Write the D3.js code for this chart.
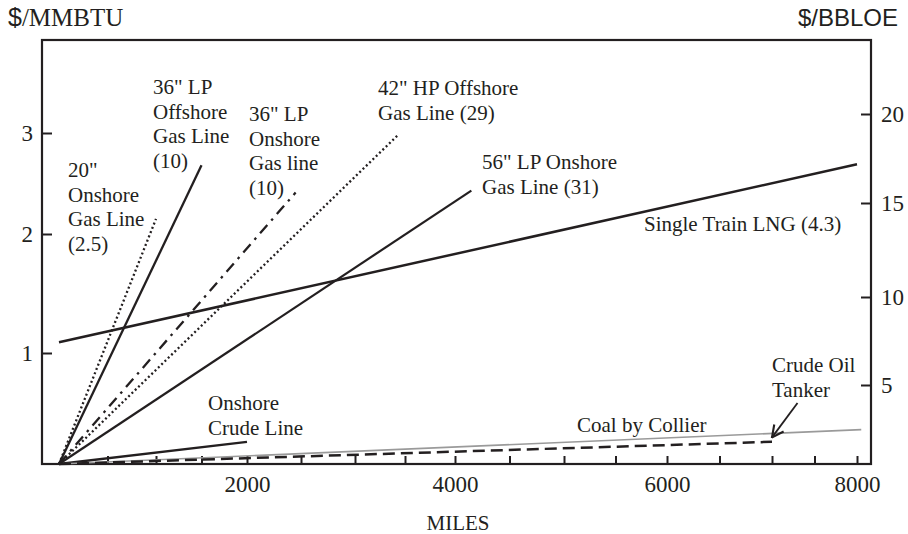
<!DOCTYPE html>
<html lang="en">
<head>
<meta charset="UTF-8">
<title>Transport cost by distance</title>
<script src="https://d3js.org/d3.v7.min.js"></script>
<style>
  body { margin: 0; background: #fff; }
  .frame { fill: none; stroke: #231f20; stroke-width: 2.2; }
  .ticks line { stroke: #231f20; stroke-width: 2; }
  .ticks path, .labels path, .labels line { display: none; }
</style>
</head>
<body>
<script>
// series: cost ($/MMBTU) against distance (miles), each a straight line
const series = [
  "20\" Onshore Gas Line", "36\" LP Offshore Gas Line", "36\" LP Onshore Gas line",
  "42\" HP Offshore Gas Line", "56\" LP Onshore Gas Line", "Single Train LNG",
  "Onshore Crude Line", "Coal by Collier", "Crude Oil Tanker"
];
const startMiles = [0, 0, 0, 0, 0, 0, 0, 0, 0];
const startCost  = [0, 0, 0, 0, 0, 1.09, 0, 0, 0];
const endMiles   = [1000, 1500, 2450, 3430, 4150, 8000, 2000, 8050, 7000];
const endCost    = [2.15, 2.68, 2.41, 2.98, 2.43, 2.69, 0.2, 0.31, 0.2];

const labelLines = [
  ["20\"", "Onshore", "Gas Line", "(2.5)"],
  ["36\" LP", "Offshore", "Gas Line", "(10)"],
  ["36\" LP", "Onshore", "Gas line", "(10)"],
  ["42\" HP Offshore", "Gas Line (29)"],
  ["56\" LP Onshore", "Gas Line (31)"],
  ["Single Train LNG (4.3)"],
  ["Onshore", "Crude Line"],
  ["Coal by Collier"],
  ["Crude Oil", "Tanker"]
];

const xTickLabels = [2000, 4000, 6000, 8000];
const xTickMarks = [500, 1000, 1500, 2000, 2500, 3000, 3500, 4000,
                    4500, 5000, 5500, 6000, 6500, 7000, 7500, 8000];
const yTicksLeft = [1, 2, 3];
const yTicksRight = [5, 10, 15, 20];

// arrow pointing at the tanker line end (miles, $/MMBTU)
const arrowFrom = [7300, 0.55];
const arrowTo = [7000, 0.24];

// ---- layout / style ----
const W = 908, H = 534;
const frame = {left: 42, right: 871, top: 40, bottom: 464};
const SERIF = "'Liberation Serif', 'Times New Roman', serif";
const SANS = "'Liberation Sans', Arial, sans-serif";
const INK = "#231f20";

// the printed axes are not evenly spaced, so use piecewise scales
const x = d3.scaleLinear()
  .domain([0, 1000, 2000, 3000, 4000, 5000, 6000, 7000, 8000])
  .range([59, 156, 247, 355, 455, 564, 667, 772, 857]);
const y = d3.scaleLinear().domain([0, 1, 2, 3]).range([464, 353, 234, 133]);
const yR = d3.scaleLinear().domain([5, 10, 15, 20]).range([385, 297, 203, 114]);

const lineStyle = [
  {dash: "2,2.6", color: INK, w: 2.3},
  {dash: null, color: INK, w: 2.3},
  {dash: "11,6,2.5,6", color: INK, w: 2.3},
  {dash: "2,2.6", color: INK, w: 2.3},
  {dash: null, color: INK, w: 2.2},
  {dash: null, color: INK, w: 2.5},
  {dash: null, color: INK, w: 2.3},
  {dash: null, color: "#9a9a9a", w: 1.6},
  {dash: "12,6", color: INK, w: 2.5}
];
// label anchors: left x, first baseline (px)
const labelPos = [
  [68, 177], [153, 94], [249, 121], [378, 95], [482, 169],
  [644, 231], [208, 410], [577, 432], [772, 372]
];
const lineGap = 24.5;

const svg = d3.select("body").append("svg")
  .attr("width", W)
  .attr("height", H);

svg.append("defs").append("marker")
  .attr("id", "head")
  .attr("viewBox", "0 0 12 12")
  .attr("refX", 11).attr("refY", 6)
  .attr("markerWidth", 14).attr("markerHeight", 14)
  .attr("markerUnits", "userSpaceOnUse")
  .attr("orient", "auto")
  .append("path")
  .attr("d", "M1,1 L11,6 L1,11")
  .style("fill", "none")
  .style("stroke", INK)
  .style("stroke-width", 1.8);

const fmt = d3.format("d");

// styles tick label text of an axis group
var tickText = g => g.selectAll("text")
  .style("font-family", SERIF)
  .style("font-size", "23px")
  .style("fill", INK);

// x tick marks (inside, pointing up)
svg.append("g")
  .attr("class", "ticks")
  .attr("transform", `translate(0,${frame.bottom})`)
  .call(d3.axisBottom(x).tickValues(xTickMarks).tickSize(-8).tickFormat(""));

svg.append("g")
  .attr("class", "labels")
  .attr("transform", `translate(0,${frame.bottom})`)
  .call(d3.axisBottom(x).tickValues(xTickLabels).tickSize(0).tickPadding(12).tickFormat(fmt))
  .call(tickText);

// left axis
svg.append("g")
  .attr("class", "ticks")
  .attr("transform", `translate(${frame.left},0)`)
  .call(d3.axisRight(y).tickValues(yTicksLeft).tickSize(10).tickFormat(""));
svg.append("g")
  .attr("class", "labels")
  .attr("transform", `translate(${frame.left},0)`)
  .call(d3.axisLeft(y).tickValues(yTicksLeft).tickSize(0).tickPadding(9).tickFormat(fmt))
  .call(tickText);

// right axis
svg.append("g")
  .attr("class", "ticks")
  .attr("transform", `translate(${frame.right},0)`)
  .call(d3.axisLeft(yR).tickValues(yTicksRight).tickSize(10).tickFormat(""));
svg.append("g")
  .attr("class", "labels")
  .attr("transform", `translate(${frame.right},0)`)
  .call(d3.axisRight(yR).tickValues(yTicksRight).tickSize(0).tickPadding(10).tickFormat(fmt))
  .call(tickText);

svg.append("rect")
  .attr("class", "frame")
  .attr("x", frame.left).attr("y", frame.top)
  .attr("width", frame.right - frame.left)
  .attr("height", frame.bottom - frame.top);

// series lines
const line = d3.line().x(d => x(d[0])).y(d => y(d[1]));
const rows = series.map((s, i) => ({
  name: s,
  pts: [[startMiles[i], startCost[i]], [endMiles[i], endCost[i]]],
  style: lineStyle[i]
}));

svg.append("g").selectAll("path")
  .data(rows).enter()
  .append("path")
  .attr("d", d => line(d.pts))
  .style("fill", "none")
  .style("stroke", d => d.style.color)
  .style("stroke-width", d => d.style.w)
  .style("stroke-dasharray", d => d.style.dash)
  .append("title")
  .text(d => d.name);

// arrow
svg.append("path")
  .attr("d", line([arrowFrom, arrowTo]))
  .style("fill", "none")
  .style("stroke", INK)
  .style("stroke-width", 1.8)
  .attr("marker-end", "url(#head)");

// series labels
const lab = svg.append("g")
  .selectAll("text")
  .data(labelLines).enter()
  .append("text")
  .style("font-family", SERIF)
  .style("font-size", "21px")
  .style("fill", INK)
  .attr("x", (d, i) => labelPos[i][0])
  .attr("y", (d, i) => labelPos[i][1]);
lab.selectAll("tspan")
  .data((d, i) => d.map(t => ({t: t, x: labelPos[i][0]})))
  .enter().append("tspan")
  .attr("x", d => d.x)
  .attr("dy", (d, j) => j ? lineGap : 0)
  .text(d => d.t);

// axis titles
const tl = svg.append("text")
  .attr("x", 8).attr("y", 26)
  .style("font-family", SERIF)
  .style("font-size", "25px")
  .style("fill", INK);
tl.append("tspan").style("font-family", SANS).text("$");
tl.append("tspan").text("/MMBTU");

svg.append("text")
  .attr("x", 898).attr("y", 26)
  .attr("text-anchor", "end")
  .style("font-family", SANS)
  .style("font-size", "24px")
  .style("fill", INK)
  .text("$/BBLOE");

svg.append("text")
  .attr("x", 458).attr("y", 530)
  .attr("text-anchor", "middle")
  .style("font-family", SERIF)
  .style("font-size", "21px")
  .style("fill", INK)
  .text("MILES");
</script>
</body>
</html>
